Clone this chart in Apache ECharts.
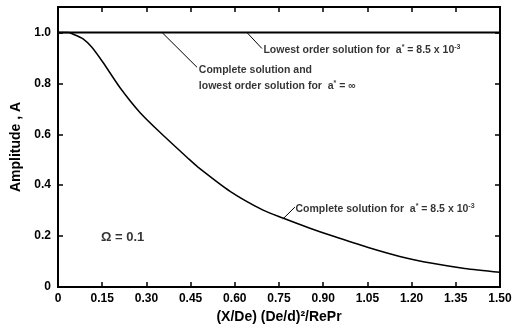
<!DOCTYPE html>
<html><head><meta charset="utf-8">
<script src="https://cdn.jsdelivr.net/npm/echarts@6/dist/echarts.min.js"></script>
<style>html,body{margin:0;padding:0;background:#fff}#c{width:525px;height:329px}</style>
</head><body><div id="c"></div>
<script>
// Data
const xTicks = ['0','0.15','0.30','0.45','0.60','0.75','0.90','1.05','1.20','1.35','1.50'];
const yTicks = ['0','0.2','0.4','0.6','0.8','1.0'];
// Lowest order (a*=8.5e-3) and complete/lowest (a*=inf): A = 1
const flatX = [0, 1.5];
const flatA = [1.0, 1.0];
// Complete solution for a* = 8.5e-3
const compX = [0, 0.035, 0.05, 0.085, 0.115, 0.153, 0.210, 0.278, 0.346, 0.441, 0.474, 0.584, 0.696, 0.763, 0.855, 0.93, 1.05, 1.16, 1.27, 1.38, 1.5];
const compA = [1.0, 1.0, 0.994, 0.975, 0.942, 0.882, 0.784, 0.686, 0.608, 0.506, 0.472, 0.376, 0.302, 0.271, 0.231, 0.201, 0.156, 0.12, 0.093, 0.073, 0.058];
// Leader lines [x0, a0, x1, a1]
const leader1 = [0.641, 1.0, 0.692, 0.937];
const leader2 = [0.353, 1.0, 0.472, 0.863];
const leader3 = [0.763, 0.267, 0.804, 0.314];
// Annotation anchors [x, a]
const note1 = [0.697, 0.929];
const note2 = [0.478, 0.82];
const note3 = [0.806, 0.306];
const noteOmega = [0.146, 0.196];

const F = 'Liberation Sans';
const chart = echarts.init(document.getElementById('c'));
const rich = {
  t: {fontFamily: F, fontWeight: 'bold', fontSize: 10.5, color: '#000', lineHeight: 16},
  s: {fontFamily: F, fontWeight: 'bold', fontSize: 7, color: '#000', padding: [0, 0, 6, 0], lineHeight: 16}
};
function lbl(text) {
  return {show: true, position: 'right', distance: 0, formatter: text, rich: rich};
}
function leaderSeries(l) {
  return {type: 'line', data: [[l[0], l[1]], [l[2], l[3]]], symbol: 'none', silent: true,
    lineStyle: {color: '#000', width: 1}, z: 3};
}
const axisStyle = {show: true, onZero: false, lineStyle: {color: '#000', width: 2}};
const tickStyle = {show: true, inside: true, length: 5, lineStyle: {color: '#000', width: 1.5}};
chart.setOption({
  animation: false,
  grid: {left: 58, right: 25, top: 7, bottom: 42, show: true, borderColor: '#000', borderWidth: 2, backgroundColor: 'transparent'},
  xAxis: [{
    type: 'value', min: 0, max: 1.5, interval: 0.15, position: 'bottom',
    axisLine: axisStyle, splitLine: {show: false}, axisTick: tickStyle,
    axisLabel: {color: '#000', fontFamily: F, fontWeight: 'bold', fontSize: 12, margin: 6,
      formatter: (v) => xTicks[Math.round(v / 0.15)] || ''},
    name: '(X/De) (De/d)²/RePr', nameLocation: 'middle', nameGap: 20,
    nameTextStyle: {color: '#000', fontFamily: F, fontWeight: 'bold', fontSize: 14}
  }, {
    type: 'value', min: 0, max: 1.5, interval: 0.15, position: 'top',
    axisLine: axisStyle, splitLine: {show: false}, axisLabel: {show: false}, axisTick: tickStyle
  }],
  yAxis: [{
    type: 'value', min: 0, max: 1.1, interval: 0.2, position: 'left',
    axisLine: axisStyle, splitLine: {show: false}, axisTick: tickStyle,
    axisLabel: {color: '#000', fontFamily: F, fontWeight: 'bold', fontSize: 12, margin: 7,
      formatter: (v) => (v > 1.05 ? '' : (yTicks[Math.round(v / 0.2)] || ''))},
    name: 'Amplitude , A', nameLocation: 'middle', nameGap: 30,
    nameTextStyle: {color: '#000', fontFamily: F, fontWeight: 'bold', fontSize: 14}
  }, {
    type: 'value', min: 0, max: 1.1, interval: 0.2, position: 'right',
    axisLine: axisStyle, splitLine: {show: false}, axisLabel: {show: false}, axisTick: tickStyle
  }],
  series: [
    {type: 'line', data: flatX.map((x, i) => [x, flatA[i]]), symbol: 'none',
      lineStyle: {color: '#000', width: 2}, z: 4},
    {type: 'line', data: compX.map((x, i) => [x, compA[i]]), symbol: 'none', smooth: 0.25,
      lineStyle: {color: '#000', width: 1.5}, z: 4},
    leaderSeries(leader1), leaderSeries(leader2), leaderSeries(leader3),
    {type: 'line', xAxisIndex: 1, yAxisIndex: 1, data: [], symbol: 'none'},
    {type: 'scatter', symbolSize: 0, silent: true, z: 5, data: [
      {value: note1, label: lbl('{t|Lowest order solution for  a}{s|*}{t| = 8.5 x 10}{s|-3}')},
      {value: note2, label: lbl('{t|Complete solution and}\n{t|lowest order solution for  a}{s|*}{t| = ∞}')},
      {value: note3, label: lbl('{t|Complete solution for  a}{s|*}{t| = 8.5 x 10}{s|-3}')},
      {value: noteOmega, label: {show: true, position: 'right', distance: 0, formatter: 'Ω = 0.1',
        color: '#000', fontFamily: F, fontWeight: 'bold', fontSize: 13}}
    ]}
  ]
});
</script></body></html>
